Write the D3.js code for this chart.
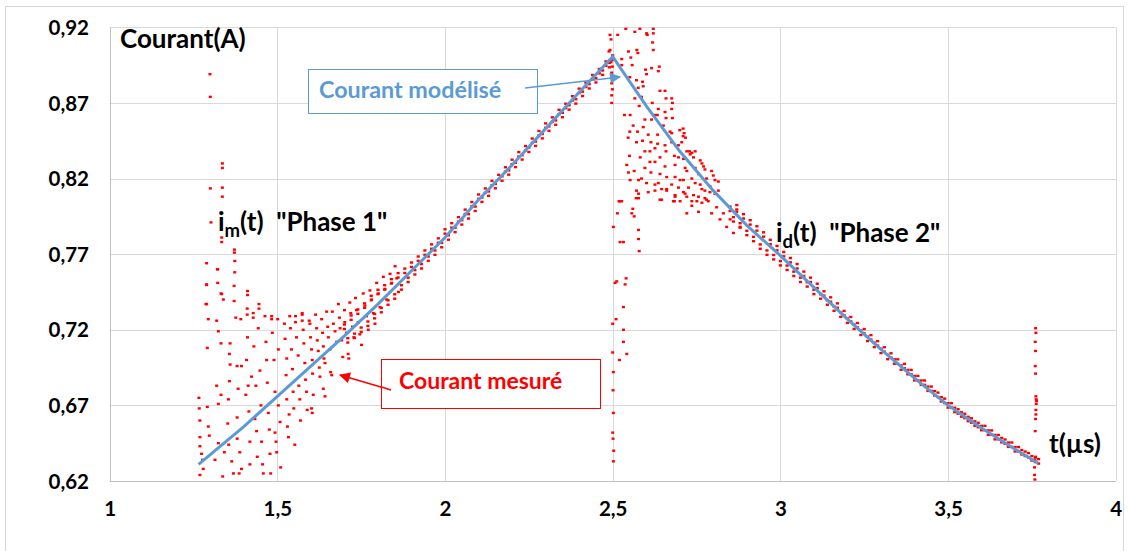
<!DOCTYPE html>
<html><head><meta charset="utf-8">
<script src="https://cdn.jsdelivr.net/npm/d3@7"></script>
<style>
body{margin:0;background:#fff;}
text{font-family:Lato,"Liberation Sans",sans-serif;font-weight:bold;}
</style></head>
<body><svg id="c" width="1129" height="551"></svg>
<script>
const xTicks = [1,1.5,2,2.5,3,3.5,4];
const xTickLabels = ["1","1,5","2","2,5","3","3,5","4"];
const yTicks = [0.62,0.67,0.72,0.77,0.82,0.87,0.92];
const yTickLabels = ["0,62","0,67","0,72","0,77","0,82","0,87","0,92"];

// Modelled current (blue line)
const modelT = [1.265,1.4,1.5,1.6,1.7,1.8,1.9,2.0,2.1,2.2,2.3,2.4,2.5,2.6,2.7,2.8,2.9,3.0,3.1,3.2,3.3,3.4,3.5,3.6,3.7,3.769];
const modelI = [0.631,0.656,0.676,0.696,0.716,0.737,0.759,0.781,0.806,0.829,0.853,0.877,0.9006,0.868,0.838,0.812,0.789,0.769,0.748,0.727,0.707,0.688,0.670,0.655,0.641,0.6317];

// Measured current (red points), phase 1 noisy start
const phase1Scatter = [
[1.266,0.675],[1.267,0.668],[1.269,0.660],[1.269,0.649],[1.269,0.643],[1.274,0.638],[1.277,0.634],[1.279,0.628],[1.269,0.624],
[1.289,0.764],[1.289,0.750],[1.287,0.737],[1.291,0.708],[1.294,0.727],[1.291,0.669],[1.294,0.656],[1.297,0.650],
[1.299,0.889],[1.300,0.874],[1.336,0.830],[1.336,0.827],[1.300,0.8135],[1.336,0.814],[1.336,0.808],[1.302,0.791],[1.334,0.781],[1.334,0.778],
[1.372,0.773],[1.372,0.771],[1.373,0.7655],[1.321,0.760],[1.373,0.758],[1.289,0.7496],[1.334,0.7436],[1.411,0.7456],[1.411,0.743],[1.289,0.737],
[1.319,0.726],[1.322,0.760],[1.322,0.751],[1.324,0.719],[1.319,0.683],[1.324,0.671],[1.324,0.645],[1.332,0.744],[1.332,0.677],[1.332,0.711],
[1.314,0.634],[1.337,0.623],[1.339,0.740],[1.342,0.639],[1.352,0.658],[1.357,0.686],[1.357,0.704],[1.354,0.674],[1.359,0.711],[1.359,0.697],
[1.355,0.644],[1.364,0.633],[1.369,0.625],[1.371,0.749],[1.371,0.739],[1.376,0.728],[1.380,0.662],[1.380,0.648],[1.380,0.696],
[1.383,0.681],[1.386,0.625],[1.388,0.639],[1.391,0.727],[1.393,0.696],[1.393,0.628],[1.406,0.677],[1.408,0.700],[1.410,0.734],[1.410,0.730],
[1.411,0.715],[1.413,0.683],[1.415,0.666],[1.418,0.646],[1.418,0.631],[1.423,0.689],[1.428,0.731],[1.428,0.728],[1.430,0.709],[1.433,0.661],
[1.436,0.683],[1.438,0.653],[1.440,0.636],[1.443,0.721],[1.445,0.737],[1.445,0.734],[1.448,0.693],[1.451,0.670],[1.453,0.646],[1.456,0.631],
[1.458,0.625],[1.463,0.729],[1.466,0.712],[1.468,0.700],[1.470,0.685],[1.473,0.665],[1.476,0.654],[1.478,0.638],[1.480,0.625],[1.483,0.729],
[1.483,0.727],[1.485,0.718],[1.490,0.700],[1.493,0.679],[1.493,0.652],[1.496,0.646],[1.498,0.639],[1.501,0.727],[1.503,0.707],[1.503,0.670],
[1.508,0.659],[1.510,0.629],[1.521,0.724],[1.523,0.714],[1.526,0.690],[1.528,0.701],[1.528,0.674],[1.530,0.656],[1.533,0.649],[1.535,0.664],
[1.537,0.729],[1.539,0.721],[1.542,0.707],[1.545,0.694],[1.547,0.679],[1.549,0.668],[1.552,0.644],[1.554,0.729],[1.554,0.725],[1.557,0.715],
[1.562,0.703],[1.564,0.683],[1.567,0.674],[1.569,0.660],[1.574,0.731],[1.574,0.730],[1.574,0.726],[1.577,0.720],[1.579,0.711],[1.582,0.698],
[1.584,0.687],[1.587,0.679],[1.589,0.667],[1.595,0.726],[1.597,0.724],[1.599,0.715],[1.602,0.707],[1.604,0.700],[1.605,0.691],[1.607,0.677],
[1.602,0.668],[1.604,0.665],[1.614,0.730],[1.617,0.721],[1.619,0.713],[1.622,0.706],[1.625,0.695],[1.627,0.689],[1.632,0.727],[1.635,0.718],
[1.637,0.709],[1.639,0.701],[1.642,0.698],[1.637,0.681],[1.642,0.676],[1.647,0.732],[1.650,0.722],[1.652,0.715],[1.657,0.707],[1.659,0.692],
[1.662,0.690],[1.664,0.732],[1.667,0.724],[1.672,0.719],[1.677,0.712],[1.682,0.737],[1.685,0.728],[1.687,0.721],[1.692,0.713],[1.695,0.702],
[1.700,0.733],[1.701,0.725],[1.706,0.718],[1.711,0.704],[1.713,0.701],[1.716,0.738],[1.719,0.731],[1.724,0.722],[1.728,0.715],[1.733,0.741],
[1.736,0.733],[1.741,0.725],[1.746,0.717],[1.751,0.710],[1.756,0.744],[1.761,0.736],[1.766,0.729],[1.771,0.720],[1.776,0.746],[1.781,0.740],
[1.786,0.731],[1.791,0.724],[1.796,0.751],[1.801,0.744],[1.806,0.735],[1.816,0.755],[1.821,0.747],[1.826,0.740],[1.836,0.757],[1.841,0.751],
[1.851,0.762],[1.856,0.754],[1.861,0.745]
];

// Phase 1 measured band close to the model
const band1 = [
[1.70,0.722],[1.71,0.713],[1.72,0.728],[1.73,0.716],[1.74,0.732],[1.75,0.720],[1.76,0.736],[1.77,0.724],[1.78,0.741],[1.79,0.729],
[1.80,0.745],[1.81,0.733],[1.82,0.748],[1.83,0.738],[1.84,0.752],[1.85,0.742],[1.86,0.756],[1.87,0.748],[1.88,0.759],[1.89,0.753],
[1.90,0.763],[1.91,0.758],[1.92,0.767],[1.93,0.762],[1.94,0.771],[1.95,0.767],[1.96,0.775],[1.97,0.771],[1.98,0.779],[1.99,0.776],
[2.00,0.785],[2.01,0.781],[2.02,0.789],[2.03,0.786],[2.04,0.793],[2.05,0.791],[2.06,0.798],[2.07,0.795],[2.08,0.803],[2.09,0.800],
[2.10,0.808],[2.11,0.806],[2.12,0.812],[2.13,0.810],[2.14,0.817],[2.15,0.815],[2.16,0.821],[2.17,0.820],[2.18,0.826],[2.19,0.824],
[2.20,0.831],[2.21,0.829],[2.22,0.836],[2.23,0.834],[2.24,0.840],[2.25,0.839],[2.26,0.845],[2.27,0.843],[2.28,0.850],[2.29,0.848],
[2.30,0.855],[2.31,0.853],[2.32,0.859],[2.33,0.857],[2.34,0.864],[2.35,0.862],[2.36,0.868],[2.37,0.867],[2.38,0.873],[2.39,0.871],
[2.40,0.878],[2.41,0.876],[2.42,0.882],[2.43,0.881],[2.44,0.887],[2.45,0.885],[2.46,0.891],[2.47,0.890],[2.48,0.896],[2.49,0.895],[2.50,0.900]
];

// Switching spike near t = 2.5
const spikePeak = [
[2.492,0.915],[2.495,0.912],[2.492,0.905],[2.489,0.904],[2.495,0.897],[2.499,0.894],[2.497,0.890],[2.497,0.883],[2.499,0.879],[2.497,0.875],[2.497,0.870],
[2.502,0.788],[2.507,0.751],[2.500,0.724],[2.502,0.692],[2.514,0.797],[2.520,0.805],[2.527,0.805],[2.522,0.778],[2.532,0.778],[2.512,0.752],
[2.540,0.754],[2.537,0.750],[2.532,0.735],[2.532,0.720],[2.532,0.712],[2.542,0.704],[2.520,0.700],[2.510,0.727],[2.500,0.705],[2.501,0.680],
[2.502,0.665],[2.500,0.652],[2.501,0.648],[2.503,0.640],[2.502,0.633]
];

// Phase 2 noisy part after the peak
const phase2Scatter = [
[2.515,0.915],[2.539,0.919],[2.566,0.917],[2.581,0.919],[2.601,0.916],[2.603,0.915],[2.621,0.919],[2.621,0.916],[2.619,0.910],[2.547,0.904],
[2.572,0.905],[2.575,0.903],[2.621,0.905],[2.554,0.900],[2.527,0.899],[2.527,0.895],[2.558,0.895],[2.598,0.892],[2.616,0.893],[2.639,0.894],
[2.636,0.891],[2.601,0.889],[2.551,0.887],[2.571,0.885],[2.589,0.884],[2.591,0.881],[2.576,0.880],[2.641,0.878],[2.656,0.878],[2.659,0.873],
[2.676,0.873],[2.678,0.870],[2.566,0.873],[2.586,0.874],[2.618,0.870],[2.579,0.868],[2.636,0.866],[2.676,0.866],[2.656,0.864],[2.535,0.862],
[2.552,0.862],[2.626,0.862],[2.633,0.862],[2.659,0.860],[2.678,0.860],[2.596,0.859],[2.616,0.859],[2.561,0.855],[2.651,0.855],[2.591,0.854],
[2.710,0.853],[2.700,0.852],[2.671,0.851],[2.676,0.850],[2.551,0.851],[2.574,0.851],[2.713,0.850],[2.606,0.849],[2.634,0.849],[2.710,0.848],
[2.717,0.847],[2.546,0.847],[2.589,0.845],[2.676,0.844],[2.706,0.844],[2.614,0.844],[2.571,0.844],[2.696,0.842],[2.634,0.843],[2.656,0.842],
[2.626,0.840],[2.659,0.838],[2.596,0.838],[2.611,0.838],[2.721,0.838],[2.729,0.838],[2.736,0.837],[2.746,0.838],[2.731,0.836],[2.741,0.834],
[2.684,0.835],[2.550,0.835],[2.582,0.834],[2.641,0.834],[2.696,0.834],[2.711,0.833],[2.761,0.832],[2.766,0.830],[2.611,0.831],[2.626,0.831],
[2.542,0.829],[2.686,0.829],[2.656,0.828],[2.596,0.827],[2.716,0.827],[2.746,0.827],[2.771,0.828],[2.775,0.826],[2.795,0.825],[2.564,0.825],
[2.547,0.824],[2.614,0.824],[2.641,0.823],[2.721,0.825],[2.756,0.823],[2.800,0.822],[2.686,0.821],[2.661,0.821],[2.586,0.820],[2.736,0.820],
[2.780,0.820],[2.805,0.819],[2.552,0.819],[2.577,0.819],[2.701,0.819],[2.711,0.819],[2.636,0.817],[2.601,0.817],[2.746,0.817],[2.815,0.818],
[2.676,0.816],[2.761,0.816],[2.790,0.815],[2.646,0.813],[2.696,0.814],[2.726,0.814],[2.766,0.813],[2.815,0.812],[2.661,0.812],[2.626,0.812],
[2.571,0.812],[2.711,0.811],[2.790,0.811],[2.805,0.810],[2.741,0.809],[2.686,0.809],[2.721,0.808],[2.756,0.808],[2.775,0.807],[2.646,0.806],
[2.577,0.807],[2.684,0.805],[2.701,0.805],[2.736,0.805],[2.519,0.805],[2.766,0.804],[2.785,0.805],
[2.557,0.797],[2.560,0.800],[2.564,0.795],[2.570,0.807],[2.577,0.810],[2.577,0.786],[2.577,0.780],[2.579,0.772],[2.606,0.811],[2.626,0.816],
[2.641,0.806],[2.661,0.813],[2.681,0.805],[2.686,0.808],[2.716,0.810],[2.721,0.797],[2.736,0.802],[2.751,0.805],[2.756,0.798],[2.775,0.812],
[2.780,0.806],[2.795,0.797],[2.810,0.801],[2.820,0.793],[2.830,0.797],[2.840,0.788],[2.850,0.793],[2.860,0.784],[2.870,0.798],[2.880,0.788]
];

// Phase 2 measured band close to the model
const band2 = [
[2.85,0.800],[2.86,0.793],[2.87,0.801],[2.88,0.789],[2.89,0.795],[2.90,0.784],[2.91,0.791],[2.92,0.780],[2.93,0.787],[2.94,0.775],
[2.95,0.783],[2.96,0.771],[2.97,0.778],[2.98,0.768],[2.99,0.774],[3.00,0.764],[3.01,0.770],[3.02,0.761],[3.03,0.766],[3.04,0.757],
[3.05,0.762],[3.06,0.753],[3.07,0.757],[3.08,0.750],[3.09,0.753],[3.10,0.745],[3.11,0.749],[3.12,0.742],[3.13,0.744],[3.14,0.738],
[3.15,0.740],[3.16,0.734],[3.17,0.736],[3.18,0.730],[3.19,0.731],[3.20,0.726],[3.21,0.727],[3.22,0.722],[3.23,0.723],[3.24,0.718],
[3.25,0.719],[3.26,0.714],[3.27,0.715],[3.28,0.710],[3.29,0.711],[3.30,0.706],[3.31,0.707],[3.32,0.702],[3.33,0.703],[3.34,0.699],
[3.35,0.699],[3.36,0.695],[3.37,0.696],[3.38,0.692],[3.39,0.692],[3.40,0.688],[3.41,0.688],[3.42,0.685],[3.43,0.685],[3.44,0.681],
[3.45,0.681],[3.46,0.678],[3.47,0.677],[3.48,0.674],[3.49,0.673],[3.50,0.670],[3.51,0.670],[3.52,0.667],[3.53,0.666],[3.54,0.664],
[3.55,0.663],[3.56,0.661],[3.57,0.660],[3.58,0.658],[3.59,0.657],[3.60,0.655],[3.61,0.655],[3.62,0.652],[3.63,0.652],[3.64,0.649],
[3.65,0.649],[3.66,0.647],[3.67,0.646],[3.68,0.644],[3.69,0.644],[3.70,0.641],[3.71,0.641],[3.72,0.639],[3.73,0.638],[3.74,0.637],
[3.75,0.635],[3.76,0.634],[3.77,0.633]
];

// Switching spike near t = 3.77
const spikeEnd = [
[3.761,0.721],[3.762,0.718],[3.760,0.712],[3.761,0.706],[3.760,0.696],[3.761,0.691],[3.762,0.676],[3.763,0.674],[3.764,0.673],[3.763,0.671],
[3.762,0.667],[3.762,0.664],[3.761,0.661],[3.760,0.653],[3.761,0.636],[3.759,0.634],[3.758,0.629],[3.758,0.624],[3.759,0.621]
];

const svg = d3.select("#c");
const x = d3.scaleLinear().domain([1,4]).range([109.7,1115.7]);
const y = d3.scaleLinear().domain([0.62,0.92]).range([481,27.3]);

// outer frame
svg.append("rect").attr("x",5.5).attr("y",6.5).attr("width",1118).attr("height",560)
  .attr("fill","#fff").attr("stroke","#d9d9d9").attr("stroke-width",1);

// grid
const grid = svg.append("g");
grid.selectAll("line.h").data(yTicks).join("line")
  .attr("x1",x(1)).attr("x2",x(4)).attr("y1",d=>Math.round(y(d))+0.5).attr("y2",d=>Math.round(y(d))+0.5)
  .attr("stroke",(d,i)=>i===0?"#bfbfbf":"#d9d9d9").attr("stroke-width",1);
grid.selectAll("line.v").data(xTicks).join("line")
  .attr("y1",y(0.62)).attr("y2",y(0.92)).attr("x1",d=>Math.round(x(d))+0.5).attr("x2",d=>Math.round(x(d))+0.5)
  .attr("stroke",(d,i)=>i===0?"#bfbfbf":"#d9d9d9").attr("stroke-width",1);

// axes labels via d3 axes
const yAxis = d3.axisLeft(y).tickValues(yTicks).tickSize(0).tickPadding(0)
  .tickFormat((d,i)=>yTickLabels[i]);
const gy = svg.append("g").attr("transform","translate(89,0)").call(yAxis);
gy.select(".domain").remove();
gy.selectAll("text").attr("font-size",20.5).attr("fill","#000").attr("dy","0.35em")
  .style("font-family","Lato").style("font-weight","bold");

const xAxis = d3.axisBottom(x).tickValues(xTicks).tickSize(0).tickPadding(0)
  .tickFormat((d,i)=>xTickLabels[i]);
const gx = svg.append("g").attr("transform","translate(0,501)").call(xAxis);
gx.select(".domain").remove();
gx.selectAll("text").attr("font-size",20.5).attr("fill","#000").attr("dy","0.71em")
  .style("font-family","Lato").style("font-weight","bold");

// clip
svg.append("clipPath").attr("id","plot").append("rect")
  .attr("x",x(1)).attr("y",y(0.92)-2).attr("width",x(4)-x(1)).attr("height",y(0.62)-y(0.92)+2);

const pts = svg.append("g").attr("clip-path","url(#plot)");
// scattered points: single dash markers
const singles = [].concat(phase1Scatter, spikePeak, phase2Scatter, spikeEnd);
pts.selectAll("rect.s").data(singles).join("rect").attr("class","s")
  .attr("x",d=>x(d[0])-1.5).attr("y",d=>y(d[1])-1.2).attr("width",3).attr("height",2.4)
  .attr("fill","#ff0000");
// band points: colon-shaped markers (two stacked dashes)
const bands = [].concat(band1, band2);
const colon = pts.selectAll("g.b").data(bands).join("g").attr("class","b")
  .attr("transform",d=>`translate(${x(d[0])},${y(d[1])})`);
colon.append("rect").attr("x",-1.6).attr("y",-3.4).attr("width",3.2).attr("height",2.4).attr("fill","#ff0000");
colon.append("rect").attr("x",-1.6).attr("y",1.0).attr("width",3.2).attr("height",2.4).attr("fill","#ff0000");

// model line
const model = modelT.map((t,i)=>[t,modelI[i]]);
svg.append("path").datum(model)
  .attr("d",d3.line().x(d=>x(d[0])).y(d=>y(d[1])))
  .attr("fill","none").attr("stroke","#5b9bd5").attr("stroke-width",3).attr("stroke-linejoin","miter");

// arrow markers
const defs = svg.append("defs");
function mk(id,color){
  defs.append("marker").attr("id",id).attr("viewBox","0 0 10 10").attr("refX",9).attr("refY",5)
    .attr("markerWidth",13).attr("markerHeight",11).attr("markerUnits","userSpaceOnUse").attr("orient","auto")
    .append("path").attr("d","M0,0 L10,5 L0,10 z").attr("fill",color);
}
mk("ab2","#5b9bd5"); mk("ar2","#ff0000");

// blue label box
svg.append("line").attr("x1",525).attr("y1",88).attr("x2",620).attr("y2",77)
  .attr("stroke","#5b9bd5").attr("stroke-width",1.5).attr("marker-end","url(#ab2)");
svg.append("rect").attr("x",308.5).attr("y",69.5).attr("width",229).attr("height",44)
  .attr("fill","#fff").attr("stroke","#5b9bd5").attr("stroke-width",1);
svg.append("line").attr("x1",525).attr("y1",88).attr("x2",538).attr("y2",86.5)
  .attr("stroke","#5b9bd5").attr("stroke-width",1.5);
svg.append("text").attr("x",319).attr("y",98)
  .attr("font-size",23.3).attr("fill","#5b9bd5").text("Courant modélisé");

// red label box
svg.append("line").attr("x1",391).attr("y1",390).attr("x2",340).attr("y2",375)
  .attr("stroke","#ff0000").attr("stroke-width",1.5).attr("marker-end","url(#ar2)");
svg.append("rect").attr("x",381.5).attr("y",359.5).attr("width",219).attr("height",49)
  .attr("fill","#fff").attr("stroke","#ff0000").attr("stroke-width",1);
svg.append("line").attr("x1",381.5).attr("y1",387).attr("x2",391).attr("y2",390)
  .attr("stroke","#ff0000").attr("stroke-width",1.5);
svg.append("text").attr("x",399).attr("y",389)
  .attr("font-size",23).attr("fill","#ff0000").text("Courant mesuré");

// titles
svg.append("text").attr("x",120).attr("y",48).attr("font-size",26).attr("fill","#000").text("Courant(A)");
const p1 = svg.append("text").attr("x",218).attr("y",231).attr("font-size",26).attr("fill","#000");
p1.append("tspan").text("i");
p1.append("tspan").attr("font-size",18.5).attr("dy",6).text("m");
p1.append("tspan").attr("dy",-6).text("(t)\u00a0\u00a0\"Phase 1\"");
const p2 = svg.append("text").attr("x",776).attr("y",242).attr("font-size",26).attr("fill","#000");
p2.append("tspan").text("i");
p2.append("tspan").attr("font-size",18.5).attr("dy",6).text("d");
p2.append("tspan").attr("dy",-6).text("(t)\u00a0\u00a0\"Phase 2\"");
svg.append("text").attr("x",1049).attr("y",453).attr("font-size",26).attr("fill","#000").text("t(µs)");
</script></body></html>
